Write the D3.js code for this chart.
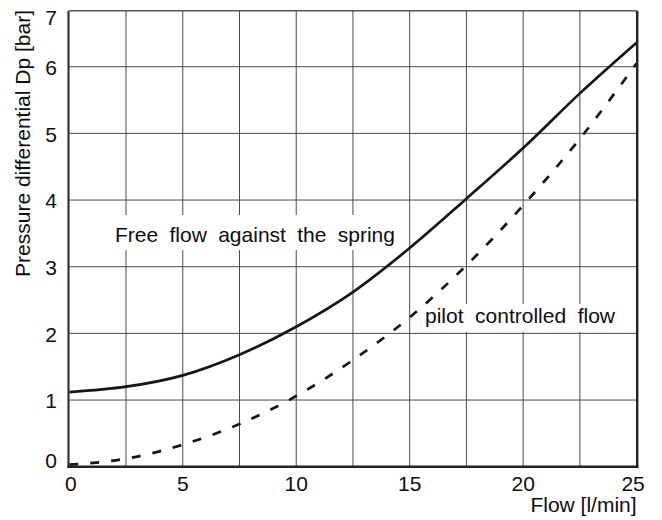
<!DOCTYPE html>
<html>
<head>
<meta charset="utf-8">
<script src="https://cdn.jsdelivr.net/npm/d3@7/dist/d3.min.js"></script>
<style>
  html, body { margin: 0; padding: 0; background: #fff; }
  svg { display: block; }
  text { font-family: "Liberation Sans", Arial, Helvetica, sans-serif; fill: #0d0d0d; }
</style>
</head>
<body>
<svg id="chart" width="662" height="520"></svg>
<script>
// Flow (l/min) sample points shared by both curves
const flow = [0, 2.5, 5, 7.5, 10, 12.5, 15, 17.5, 20, 22.5, 25];
// Pressure differential (bar) – free flow against the spring
const freeFlowDp = [1.12, 1.20, 1.37, 1.68, 2.10, 2.62, 3.28, 4.02, 4.78, 5.60, 6.36];
// Pressure differential (bar) – pilot controlled flow
const pilotFlowDp = [0.03, 0.12, 0.33, 0.64, 1.06, 1.60, 2.24, 3.02, 3.92, 4.92, 6.05];

const xTicks = [0, 5, 10, 15, 20, 25];
const xGrid = [2.5, 5, 7.5, 10, 12.5, 15, 17.5, 20, 22.5];
const yTicks = [0, 1, 2, 3, 4, 5, 6, 7];
const yGrid = [1, 2, 3, 4, 5, 6];
const yMax = 6.84;

const xTitle = "Flow [l/min]";
const yTitle = "Pressure differential Dp [bar]";
const freeLabel = "Free flow against the spring";
const pilotLabel = "pilot controlled flow";

const svg = d3.select("#chart");
const plotLeft = 69.3, plotRight = 636.6, plotTop = 10.7, plotBottom = 466.7;

const x = d3.scaleLinear().domain([0, 25]).range([plotLeft, plotRight]);
const y = d3.scaleLinear().domain([0, yMax]).range([plotBottom, plotTop]);

// grid
const grid = svg.append("g").attr("stroke", "#4a4a4a").attr("stroke-width", 1);
grid.selectAll("line.v").data(xGrid).join("line")
  .attr("class", "v")
  .attr("x1", d => x(d)).attr("x2", d => x(d))
  .attr("y1", plotTop).attr("y2", plotBottom);
grid.selectAll("line.h").data(yGrid).join("line")
  .attr("class", "h")
  .attr("x1", plotLeft).attr("x2", plotRight)
  .attr("y1", d => y(d)).attr("y2", d => y(d));

// white panels behind the curve labels
svg.append("rect").attr("x", 107).attr("y", 215).attr("width", 295).attr("height", 35).attr("fill", "#fff");
svg.append("rect").attr("x", 421).attr("y", 304).attr("width", 201).attr("height", 28).attr("fill", "#fff");

// curves
const line = d3.line()
  .x(d => x(d[0])).y(d => y(d[1]))
  .curve(d3.curveMonotoneX);

svg.append("path")
  .datum(flow.map((f, i) => [f, freeFlowDp[i]]))
  .attr("d", line)
  .attr("fill", "none").attr("stroke", "#161616").attr("stroke-width", 2.7);

svg.append("path")
  .datum(flow.map((f, i) => [f, pilotFlowDp[i]]))
  .attr("d", line)
  .attr("fill", "none").attr("stroke", "#161616").attr("stroke-width", 2.7)
  .attr("stroke-dasharray", "9,12");

// frame
svg.append("line").attr("x1", plotLeft).attr("x2", plotRight).attr("y1", plotTop).attr("y2", plotTop)
  .attr("stroke", "#555").attr("stroke-width", 1.6);
svg.append("line").attr("x1", plotLeft - 0.8).attr("x2", plotLeft - 0.8).attr("y1", plotTop).attr("y2", plotBottom + 1.2)
  .attr("stroke", "#333").attr("stroke-width", 2.2);
svg.append("line").attr("x1", plotRight + 0.6).attr("x2", plotRight + 0.6).attr("y1", plotTop).attr("y2", plotBottom + 1.2)
  .attr("stroke", "#222").attr("stroke-width", 2.4);
svg.append("line").attr("x1", plotLeft - 1.9).attr("x2", plotRight + 1.8).attr("y1", plotBottom).attr("y2", plotBottom)
  .attr("stroke", "#222").attr("stroke-width", 2.6);

// x tick labels
svg.append("g").selectAll("text").data(xTicks).join("text")
  .attr("x", (d, i) => x(d) + (i === xTicks.length - 1 ? -3.5 : i === 0 ? 1.5 : 0))
  .attr("y", 490.8)
  .attr("text-anchor", "middle")
  .attr("font-size", 21)
  .text(d => d);

// y tick labels (kept inside the frame's vertical extent)
svg.append("g").selectAll("text").data(yTicks).join("text")
  .attr("x", 57)
  .attr("y", d => Math.max(plotTop + 7, Math.min(plotBottom - 6, y(Math.min(d, yMax)) + 1)))
  .attr("dy", "0.35em")
  .attr("text-anchor", "end")
  .attr("font-size", 21)
  .text(d => d);

// axis titles
svg.append("text")
  .attr("x", plotRight).attr("y", 511.5)
  .attr("text-anchor", "end")
  .attr("font-size", 21)
  .text(xTitle);

svg.append("text")
  .attr("transform", "translate(29.5,10) rotate(-90)")
  .attr("text-anchor", "end")
  .attr("font-size", 21)
  .text(yTitle);

// curve labels
svg.append("text")
  .attr("x", 115).attr("y", 242)
  .attr("font-size", 21)
  .attr("word-spacing", 5.5)
  .text(freeLabel);

svg.append("text")
  .attr("x", 425).attr("y", 323.3)
  .attr("font-size", 21)
  .attr("word-spacing", 5.7)
  .text(pilotLabel);
</script>
</body>
</html>
